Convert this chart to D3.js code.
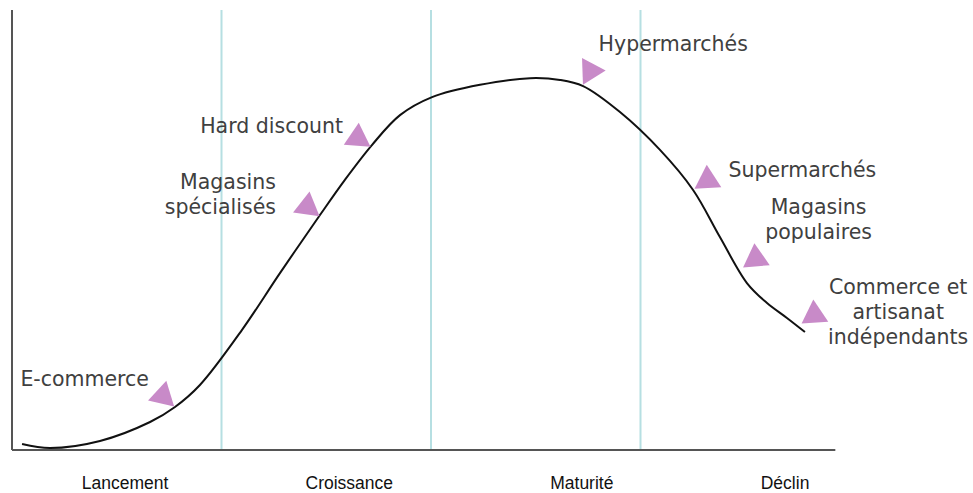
<!DOCTYPE html>
<html>
<head>
<meta charset="utf-8">
<script src="https://cdn.jsdelivr.net/npm/d3@7"></script>
<style>
  body { margin: 0; background: #fff; }
  .note { font-family: "DejaVu Sans", Verdana, sans-serif; font-size: 20.5px; fill: #404040; }
  .phase { font-family: "Liberation Sans", Arial, sans-serif; font-size: 17.5px; fill: #111; }
</style>
</head>
<body>
<svg width="973" height="493"></svg>
<script>
// phases of the life cycle (x in phase units, 0..4)
var phases = ["Lancement", "Croissance", "Maturité", "Déclin"];
var phaseLabelX = [0.54, 1.61, 2.72, 3.69];
var boundaries = [1, 2, 3];

// curve (x in phase units, y = sales level 0..100)
var curveX = [0.048, 0.181, 0.42, 0.659, 0.778, 0.897, 1.098, 1.279, 1.47, 1.589, 1.718, 1.852, 2.005, 2.234, 2.473, 2.616, 2.726, 2.902, 3.093, 3.251, 3.379, 3.508, 3.604, 3.699, 3.785];
var curveY = [1.36, 0.45, 2.05, 6.36, 9.77, 14.77, 27.3, 40.2, 53.4, 61.4, 69.3, 76.1, 80.2, 83.0, 84.5, 84.1, 82.7, 76.8, 68.2, 59.1, 48.4, 37.95, 33.4, 30.0, 26.8];

// retail formats placed on the curve
var formats = ["E-commerce", "Magasins spécialisés", "Hard discount", "Hypermarchés", "Supermarchés", "Magasins populaires", "Commerce et artisanat indépendants"];
var markerX = [0.72, 1.41, 1.65, 2.76, 3.32, 3.55, 3.83];
var markerY = [12.3, 55.3, 70.9, 86.1, 61.3, 43.5, 30.7];
var markerAngle = [13, 8, 4, 88, -3, -5, -4];
var labelLines = [["E-commerce"], ["Magasins", "spécialisés"], ["Hard discount"], ["Hypermarchés"], ["Supermarchés"], ["Magasins", "populaires"], ["Commerce et", "artisanat", "indépendants"]];
var labelX = [0.04, 1.26, 1.58, 2.8, 3.42, 3.85, 4.23];
var labelY = [14.5, 59.4, 72.1, 90.6, 62.0, 53.6, 35.4];
var labelAnchor = ["start", "end", "end", "start", "start", "middle", "middle"];

var svg = d3.select("svg");
var x = d3.scaleLinear().domain([0, 4]).range([12, 850]);
var y = d3.scaleLinear().domain([0, 100]).range([450, 10]);

// phase separators
svg.selectAll(".sep")
  .data(boundaries)
  .enter().append("line")
    .attr("x1", function(d) { return x(d); })
    .attr("x2", function(d) { return x(d); })
    .attr("y1", y(100))
    .attr("y2", y(0))
    .attr("stroke", "#b6dfe2")
    .attr("stroke-width", 2);

// axes
svg.append("line")
  .attr("x1", x(0)).attr("x2", x(0))
  .attr("y1", y(100)).attr("y2", y(0))
  .attr("stroke", "#555").attr("stroke-width", 2);
svg.append("line")
  .attr("x1", x(0)).attr("x2", x(3.93))
  .attr("y1", y(0)).attr("y2", y(0))
  .attr("stroke", "#555").attr("stroke-width", 2);

// phase labels
svg.selectAll(".phase")
  .data(phases)
  .enter().append("text")
    .attr("class", "phase")
    .attr("x", function(d, i) { return x(phaseLabelX[i]); })
    .attr("y", 489)
    .attr("text-anchor", "middle")
    .text(function(d) { return d; });

// curve
var pts = curveX.map(function(d, i) { return [d, curveY[i]]; });
var line = d3.line()
  .curve(d3.curveCatmullRom.alpha(0.5))
  .x(function(d) { return x(d[0]); })
  .y(function(d) { return y(d[1]); });

svg.append("path")
  .datum(pts)
  .attr("d", line)
  .attr("fill", "none")
  .attr("stroke", "#111")
  .attr("stroke-width", 2);

// markers
var tri = d3.symbol().type(d3.symbolTriangle).size(310);
svg.selectAll(".marker")
  .data(formats)
  .enter().append("path")
    .attr("class", "marker")
    .attr("d", tri)
    .attr("fill", "#c88ac8")
    .attr("transform", function(d, i) {
      return "translate(" + x(markerX[i]) + "," + y(markerY[i]) + ") rotate(" + markerAngle[i] + ")";
    });

// labels
var lab = svg.selectAll(".note")
  .data(formats)
  .enter().append("text")
    .attr("class", "note")
    .attr("text-anchor", function(d, i) { return labelAnchor[i]; })
    .attr("transform", function(d, i) { return "translate(" + x(labelX[i]) + "," + y(labelY[i]) + ")"; });

lab.selectAll("tspan")
  .data(function(d, i) { return labelLines[i]; })
  .enter().append("tspan")
    .attr("x", 0)
    .attr("y", function(d, j) { return j * 25; })
    .text(function(d) { return d; });
</script>
</body>
</html>
